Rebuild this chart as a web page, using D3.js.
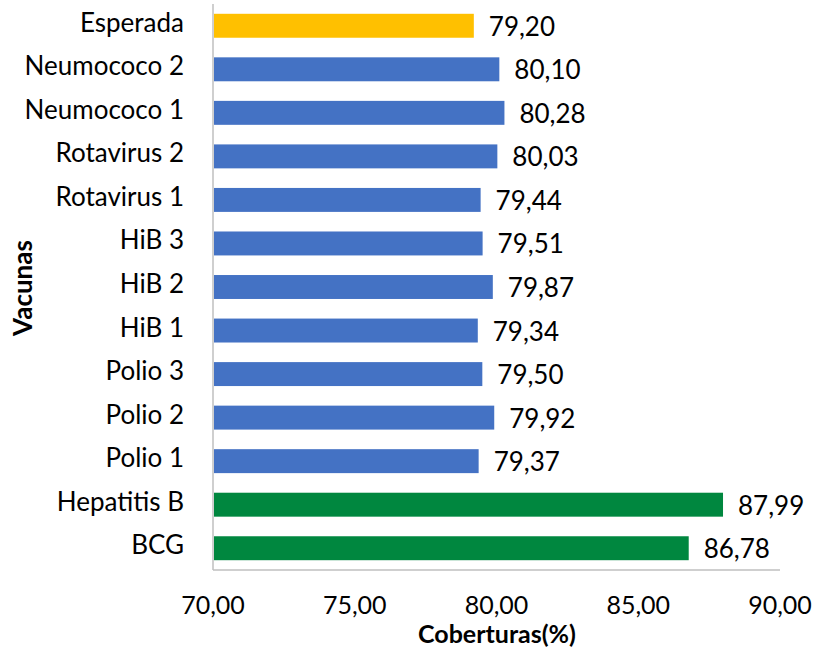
<!DOCTYPE html>
<html>
<head>
<meta charset="utf-8">
<script src="https://cdn.jsdelivr.net/npm/d3@7"></script>
<style>
  body { margin: 0; background: #fff; }
  text { font-family: Lato, "Open Sans", sans-serif; fill: #000; }
</style>
</head>
<body>
<div id="chart"></div>
<script>
const vacunas = ["Esperada", "Neumococo 2", "Neumococo 1", "Rotavirus 2", "Rotavirus 1",
  "HiB 3", "HiB 2", "HiB 1", "Polio 3", "Polio 2", "Polio 1", "Hepatitis B", "BCG"];
const coberturas = [79.20, 80.10, 80.28, 80.03, 79.44, 79.51, 79.87, 79.34, 79.50, 79.92, 79.37, 87.99, 86.78];
const grupos = ["esperada", "b", "b", "b", "b", "b", "b", "b", "b", "b", "b", "g", "g"];
const xTicks = [70, 75, 80, 85, 90];

const width = 815, height = 653;
const margin = { top: 4, right: 35, bottom: 83, left: 213 };
const colours = { esperada: "#FFC000", b: "#4472C4", g: "#00873F" };
const fmt = v => d3.format(".2f")(v).replace(".", ",");

const svg = d3.select("#chart").append("svg")
  .attr("width", width).attr("height", height);

const x = d3.scaleLinear().domain([70, 90]).range([margin.left, width - margin.right]);
const y = d3.scaleBand().domain(vacunas)
  .range([margin.top, height - margin.bottom]).paddingInner(0.45).paddingOuter(0.225);

// axis lines
svg.append("line")
  .attr("x1", x(70)).attr("x2", x(70))
  .attr("y1", margin.top).attr("y2", height - margin.bottom)
  .attr("stroke", "#bfbfbf").attr("stroke-width", 1.5);
svg.append("line")
  .attr("x1", x(70)).attr("x2", x(90))
  .attr("y1", height - margin.bottom).attr("y2", height - margin.bottom)
  .attr("stroke", "#bfbfbf").attr("stroke-width", 1.5);

const rows = vacunas.map((v, i) => ({ name: v, value: coberturas[i], g: grupos[i] }));

svg.selectAll("rect.bar").data(rows).join("rect")
  .attr("class", "bar")
  .attr("x", x(70) + 1)
  .attr("y", d => y(d.name))
  .attr("width", d => x(d.value) - x(70) - 1)
  .attr("height", y.bandwidth())
  .attr("fill", d => colours[d.g]);

svg.selectAll("text.val").data(rows).join("text")
  .attr("class", "val")
  .attr("x", d => x(d.value) + 15)
  .attr("y", d => y(d.name) + y.bandwidth() / 2 + 10)
  .attr("font-size", 26)
  .text(d => fmt(d.value));

svg.selectAll("text.cat").data(rows).join("text")
  .attr("class", "cat")
  .attr("x", 184)
  .attr("y", d => y(d.name) + y.bandwidth() / 2 + 6)
  .attr("text-anchor", "end")
  .attr("font-size", 26)
  .text(d => d.name);

svg.selectAll("text.tick").data(xTicks).join("text")
  .attr("class", "tick")
  .attr("x", d => x(d))
  .attr("y", 614)
  .attr("text-anchor", "middle")
  .attr("font-size", 25)
  .text(d => fmt(d));

svg.append("text")
  .attr("x", 497).attr("y", 643)
  .attr("text-anchor", "middle")
  .attr("font-size", 25).attr("font-weight", "bold")
  .text("Coberturas(%)");

svg.append("text")
  .attr("transform", "translate(32,288) rotate(-90)")
  .attr("text-anchor", "middle")
  .attr("font-size", 26).attr("font-weight", "bold")
  .text("Vacunas");
</script>
</body>
</html>
